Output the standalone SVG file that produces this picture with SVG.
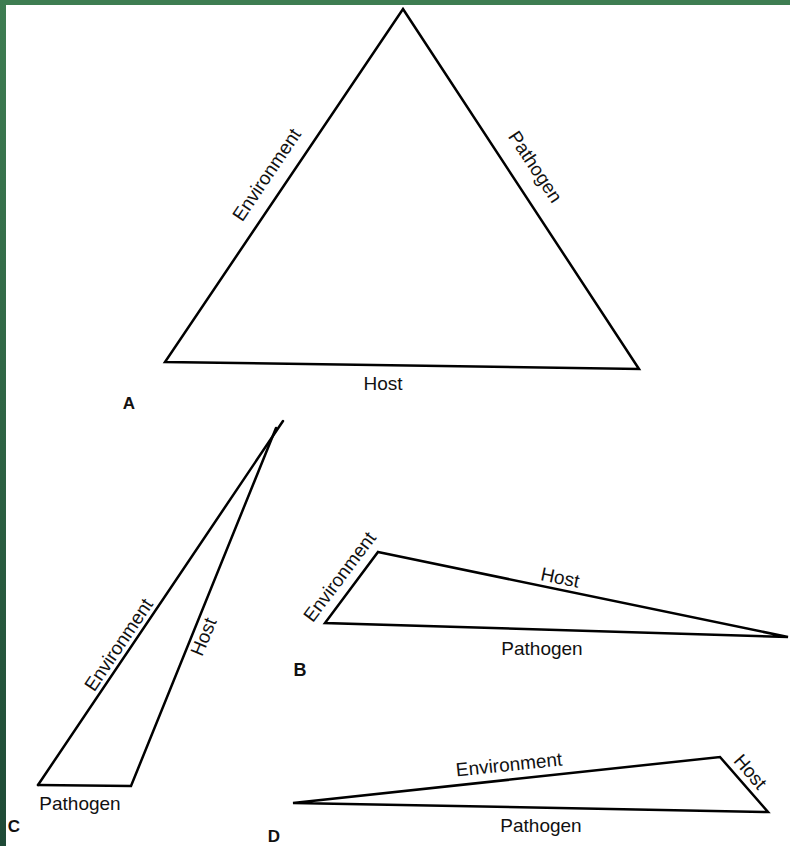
<svg xmlns="http://www.w3.org/2000/svg" width="790" height="846" viewBox="0 0 790 846">
<defs>
<linearGradient id="gv" x1="0" y1="0" x2="0" y2="1">
<stop offset="0" stop-color="#3e7d52"/>
<stop offset="1" stop-color="#1e4a36"/>
</linearGradient>
<style>
.edge{fill:none;stroke:#000;stroke-width:2.5;stroke-linejoin:miter;stroke-linecap:round}
.lbl{font-family:"Liberation Sans",Arial,sans-serif;font-size:19px;fill:#111;text-anchor:middle}
.tag{font-family:"Liberation Sans",Arial,sans-serif;font-size:17px;font-weight:bold;fill:#111;text-anchor:middle}
</style>
</defs>
<rect x="0" y="0" width="790" height="846" fill="#fff"/>
<rect x="0" y="0" width="790" height="5" fill="#3e7d52"/>
<rect x="0" y="0" width="6" height="846" fill="url(#gv)"/>
<g id="connectors">
<g id="triA-edges">
<polygon class="edge" points="403,9 639,369 165,362"/>
</g>
<g id="triB-edges">
<polygon class="edge" points="378,552 788,637 325,623"/>
</g>
<g id="triC-edges">
<polyline class="edge" points="38,785 131,786 276,428"/>
<polyline class="edge" points="38,785 283,421"/>
</g>
<g id="triD-edges">
<polygon class="edge" points="293,803 720,757 768,812"/>
</g>
</g>
<g id="nodeA">
<text class="lbl" transform="translate(267,175) rotate(-56)" y="6">Environment</text>
<text class="lbl" transform="translate(535,167) rotate(56.5)" y="6">Pathogen</text>
<text class="lbl" x="383" y="390">Host</text>
<text class="tag" x="129" y="409">A</text>
</g>
<g id="nodeB">
<text class="lbl" transform="translate(340,577) rotate(-53)" y="6">Environment</text>
<text class="lbl" transform="translate(560,578) rotate(11.7)" y="6">Host</text>
<text class="lbl" x="542" y="655">Pathogen</text>
<text class="tag" x="300" y="676" style="font-size:18px">B</text>
</g>
<g id="nodeC">
<text class="lbl" transform="translate(119,645) rotate(-56)" y="6">Environment</text>
<text class="lbl" transform="translate(204,637) rotate(-67.5)" y="6">Host</text>
<text class="lbl" x="80" y="810">Pathogen</text>
<text class="tag" x="14" y="832">C</text>
</g>
<g id="nodeD">
<text class="lbl" transform="translate(509,765) rotate(-6)" y="6">Environment</text>
<text class="lbl" transform="translate(750,772) rotate(49)" y="6">Host</text>
<text class="lbl" x="541" y="832">Pathogen</text>
<text class="tag" x="274" y="842">D</text>
</g>
</svg>
